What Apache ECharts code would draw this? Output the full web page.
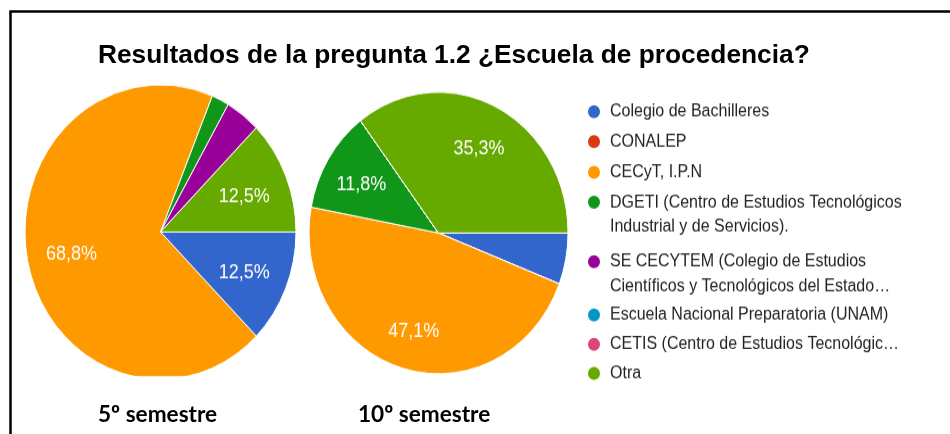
<!DOCTYPE html>
<html>
<head>
<meta charset="utf-8">
<title>Escuela de procedencia</title>
<script src="https://cdn.jsdelivr.net/npm/echarts@6/dist/echarts.min.js"></script>
<style>
    html, body { margin: 0; padding: 0; background: #fff; overflow: hidden; }
    #frame { position: absolute; left: 0; top: 0; width: 950px; height: 434px; }
    /* the google chart image is stretched vertically in the original document,
       and cropped just under the first pie */
    #pies { position: absolute; left: 0; top: 0; width: 950px; height: 398px;
            transform: scaleY(1.087); transform-origin: 0 0;
            clip-path: polygon(0 0, 950px 0, 950px 398px, 300px 398px, 300px 346px, 0 346px); }
</style>
</head>
<body>
<div id="frame"></div>
<div id="pies"></div>
<script>
var chartTitle = 'Resultados de la pregunta 1.2 ¿Escuela de procedencia?';
var groupLabels = ['5º semestre', '10º semestre'];
var categories = [
    'Colegio de Bachilleres',
    'CONALEP',
    'CECyT, I.P.N',
    'DGETI (Centro de Estudios Tecnológicos\nIndustrial y de Servicios).',
    'SE CECYTEM (Colegio de Estudios\nCientíficos y Tecnológicos del Estado…',
    'Escuela Nacional Preparatoria (UNAM)',
    'CETIS (Centro de Estudios Tecnológic…',
    'Otra'
];
// respuestas por escuela
var sem5 = [6, 0, 33, 1, 2, 0, 0, 6];
var sem10 = [1, 0, 8, 2, 0, 0, 0, 6];
var palette = ['#3366cc', '#dc3912', '#ff9900', '#109618', '#990099', '#0099c6', '#dd4477', '#66aa00'];

var SY = 1.087;          // vertical stretch of the pie image
var LH = 22.5;           // legend line height (unscaled)
var labelMin = 8;        // slices under this percent get no text

var frame = echarts.init(document.getElementById('frame'));
var pies = echarts.init(document.getElementById('pies'));

var toData = function (vals) {
    return categories.map(function (c, i) {
        return {name: c, value: vals[i], itemStyle: {color: palette[i]}};
    });
};

var pctLabel = function (p) {
    if (p.percent < labelMin) {
        return '';
    }
    return p.percent.toFixed(1).replace('.', ',') + '%';
};

var pieSeries = function (vals, center, r) {
    return {
        type: 'pie',
        center: center,
        radius: r,
        startAngle: 0,
        clockwise: true,
        animation: false,
        data: toData(vals),
        itemStyle: {borderColor: '#fff', borderWidth: 1},
        label: {show: false},
        labelLine: {show: false},
        emphasis: {disabled: true}
    };
};

// transparent copy only used to place the percent text further out than 'inside' does
var labelSeries = function (vals, center, r, r0) {
    return {
        type: 'pie',
        center: center,
        radius: [r0, r],
        startAngle: 0,
        clockwise: true,
        animation: false,
        silent: true,
        data: toData(vals).map(function (d) {
            d.itemStyle = {color: 'rgba(0,0,0,0)', borderWidth: 0};
            return d;
        }),
        label: {
            show: true,
            position: 'inside',
            formatter: pctLabel,
            color: '#fff',
            fontFamily: 'Liberation Sans, Arial, sans-serif',
            fontSize: 18
        },
        labelLine: {show: false},
        emphasis: {disabled: true}
    };
};

// icon centres of legend rows, in page pixels
var legendRows = [111.7, 141.7, 172.3, 202.3, 261.7, 315, 344.3, 373.3];
var legends = categories.map(function (c, i) {
    var lines = c.split('\n').length;
    var cy = legendRows[i] / SY;
    return {
        data: [c],
        left: 586,
        top: cy - (lines > 1 ? 1.5 : 0.5) * LH,
        padding: 0,
        orient: 'vertical',
        icon: 'circle',
        itemWidth: 14,
        itemHeight: 14,
        selectedMode: false,
        // blank first line so the icon sits next to the first real line
        formatter: function (name) {
            return name.indexOf('\n') >= 0 ? ' \n' + name : name;
        },
        textStyle: {
            color: '#222',
            fontFamily: 'Liberation Sans, Arial, sans-serif',
            fontSize: 16,
            lineHeight: LH,
            padding: [0, 0, 0, 4]
        }
    };
});

pies.setOption({
    animation: false,
    legend: legends,
    series: [
        pieSeries(sem5, [160.5, 232 / SY], 135.5),
        pieSeries(sem10, [438.5, 233 / SY], 129.5),
        labelSeries(sem5, [160.5, 235 / SY], 135.5, 40),
        labelSeries(sem10, [438.5, 237 / SY], 129.5, 46)
    ]
});

frame.setOption({
    animation: false,
    title: [{
        text: chartTitle,
        left: 98,
        top: 43,
        padding: 0,
        textStyle: {color: '#000', fontFamily: 'Liberation Sans, Arial, sans-serif', fontWeight: 'bold', fontSize: 26.3}
    }, {
        text: groupLabels[0],
        left: 98,
        top: 403,
        padding: 0,
        textStyle: {color: '#000', fontFamily: 'Lato, sans-serif', fontWeight: 'bold', fontSize: 22.6}
    }, {
        text: groupLabels[1],
        left: 358,
        top: 403,
        padding: 0,
        textStyle: {color: '#000', fontFamily: 'Lato, sans-serif', fontWeight: 'bold', fontSize: 22.6}
    }],
    graphic: [{
        type: 'rect',
        silent: true,
        shape: {x: 10.5, y: 11.5, width: 1000, height: 500},
        style: {fill: 'none', stroke: '#000', lineWidth: 2.5}
    }]
});
</script>
</body>
</html>
